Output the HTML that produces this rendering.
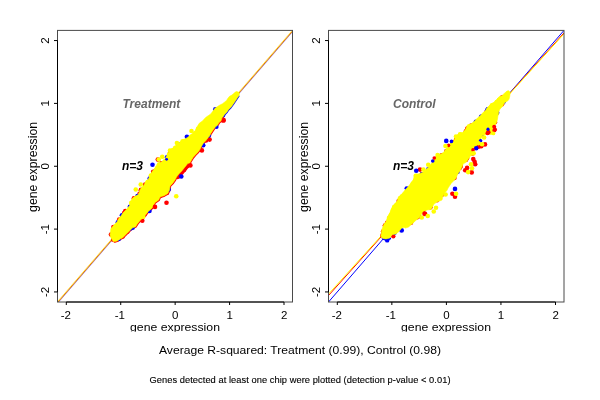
<!DOCTYPE html>
<html><head><meta charset="utf-8">
<style>
html,body{margin:0;padding:0;background:#fff;}
body{width:600px;height:400px;overflow:hidden;}
svg{display:block;font-family:"Liberation Sans",sans-serif;will-change:transform;}
</style></head>
<body>
<svg width="600" height="400" viewBox="0 0 600 400">
<defs><clipPath id="cx"><rect x="0" y="0" width="600" height="331.8"/></clipPath><clipPath id="c1"><rect x="57.5" y="30.4" width="235" height="271.6"/></clipPath><clipPath id="c2"><rect x="328.5" y="30.4" width="235.5" height="271.6"/></clipPath></defs>
<rect width="600" height="400" fill="#fff"/>
<!-- PLOT1 -->
<g id="p1">
<g clip-path="url(#c1)" fill="none" stroke-width="1">
<line x1="57.5" y1="302" x2="292.5" y2="30.5" stroke="#6040e0" stroke-opacity="0.55" transform="translate(0.65,0.65)"/>
<line x1="57.5" y1="302" x2="292.5" y2="30.5" stroke="#e07000" stroke-width="1" transform="translate(0.3,0.3)"/>
<line x1="57.5" y1="302" x2="292.5" y2="30.5" stroke="#ffd000" stroke-width="0.8" stroke-opacity="0.85" transform="translate(-0.15,-0.15)"/>
</g>
<g clip-path="url(#c1)">
<polyline points="114.75,241.60 117.25,240.93 120.29,239.01 122.93,237.48 126.71,233.71 129.71,230.71 132.56,227.83 135.61,226.69 137.07,224.32 139.53,221.13 141.15,219.26 143.21,217.96 145.50,214.91 148.84,210.87 149.73,210.37 152.30,207.80 155.00,202.50 158.75,200.00 159.50,198.00 161.00,196.50 164.00,195.75 167.75,193.50 169.60,189.75 170.00,186.00 172.50,183.50 175.00,180.00 176.50,177.00 178.75,174.00 181.75,171.00 184.75,167.25 187.75,163.50 190.00,162.75 191.50,160.00 193.00,157.60 195.25,155.00 197.50,152.75 199.75,149.75 201.25,146.75 203.50,143.00 205.75,140.75 208.00,137.75 209.60,136.10 210.75,133.50 212.25,131.25 213.75,129.00 215.60,126.75 217.50,125.25 219.00,122.60 220.90,121.10 222.00,117.75 223.25,116.50" fill="none" stroke="#ff0000" stroke-width="2.4" stroke-linejoin="round" stroke-linecap="round"/>
<polyline points="223.25,116.50 224.75,114.25 227.00,112.00 228.50,109.75 230.75,107.50 233.00,104.50 234.50,102.25 236.00,100.00 237.50,97.75 238.60,96.25" fill="none" stroke="#0000ff" stroke-width="1.9" stroke-linejoin="round" stroke-linecap="round"/>
<polyline points="177.50,176.50 179.50,174.00 182.50,171.00 185.50,167.50 188.50,164.50" fill="none" stroke="#ff0000" stroke-width="5.0" stroke-linejoin="round" stroke-linecap="round"/>
<circle cx="170.21" cy="152.16" r="2.3" fill="#ff0000"/>
<circle cx="161.26" cy="163.22" r="2.3" fill="#ff0000"/>
<circle cx="153.15" cy="171.83" r="2.3" fill="#ff0000"/>
<circle cx="145.18" cy="184.65" r="2.3" fill="#ff0000"/>
<circle cx="141.13" cy="189.83" r="2.3" fill="#ff0000"/>
<circle cx="140.86" cy="190.30" r="2.3" fill="#ff0000"/>
<circle cx="139.58" cy="193.81" r="2.3" fill="#ff0000"/>
<circle cx="133.92" cy="198.25" r="2.3" fill="#ff0000"/>
<circle cx="125.79" cy="211.39" r="2.3" fill="#ff0000"/>
<circle cx="124.09" cy="213.09" r="2.3" fill="#ff0000"/>
<circle cx="119.21" cy="219.48" r="2.3" fill="#ff0000"/>
<circle cx="113.40" cy="227.12" r="2.3" fill="#ff0000"/>
<circle cx="110.97" cy="234.50" r="2.3" fill="#ff0000"/>
<circle cx="113.22" cy="239.65" r="2.3" fill="#ff0000"/>
<circle cx="148.20" cy="210.17" r="2.3" fill="#ff0000"/>
<circle cx="144.61" cy="214.51" r="2.3" fill="#ff0000"/>
<circle cx="140.91" cy="218.29" r="2.3" fill="#ff0000"/>
<circle cx="131.85" cy="227.20" r="2.3" fill="#ff0000"/>
<circle cx="127.34" cy="231.74" r="2.3" fill="#ff0000"/>
<circle cx="122.66" cy="236.41" r="2.3" fill="#ff0000"/>
<circle cx="167.02" cy="192.83" r="2.3" fill="#ff0000"/>
<circle cx="160.50" cy="195.70" r="2.3" fill="#ff0000"/>
<circle cx="223.30" cy="120.20" r="2.6" fill="#ff0000"/>
<circle cx="209.60" cy="139.60" r="2.3" fill="#ff0000"/>
<circle cx="201.90" cy="150.40" r="2.3" fill="#ff0000"/>
<circle cx="190.40" cy="165.40" r="2.3" fill="#ff0000"/>
<circle cx="187.50" cy="165.60" r="2.3" fill="#ff0000"/>
<circle cx="142.30" cy="220.80" r="2.3" fill="#ff0000"/>
<circle cx="206.00" cy="140.50" r="2.3" fill="#ff0000"/>
<circle cx="125.30" cy="211.00" r="2.3" fill="#ff0000"/>
<circle cx="135.00" cy="198.50" r="2.3" fill="#ff0000"/>
<circle cx="181.50" cy="172.50" r="2.3" fill="#ff0000"/>
<circle cx="184.00" cy="170.00" r="2.3" fill="#ff0000"/>
<circle cx="178.50" cy="176.50" r="2.3" fill="#ff0000"/>
<circle cx="155.20" cy="170.50" r="2.0" fill="#ff0000"/>
<circle cx="215.36" cy="109.37" r="2.3" fill="#0000ff"/>
<circle cx="178.57" cy="144.58" r="2.3" fill="#0000ff"/>
<circle cx="167.06" cy="157.28" r="2.3" fill="#0000ff"/>
<circle cx="149.68" cy="178.47" r="2.3" fill="#0000ff"/>
<circle cx="137.52" cy="196.10" r="2.3" fill="#0000ff"/>
<circle cx="129.88" cy="206.71" r="2.3" fill="#0000ff"/>
<circle cx="122.32" cy="215.55" r="2.3" fill="#0000ff"/>
<circle cx="117.87" cy="222.18" r="2.3" fill="#0000ff"/>
<circle cx="215.72" cy="125.45" r="2.3" fill="#0000ff"/>
<circle cx="208.80" cy="135.56" r="2.3" fill="#0000ff"/>
<circle cx="168.67" cy="189.48" r="2.3" fill="#0000ff"/>
<circle cx="130.53" cy="228.53" r="2.3" fill="#0000ff"/>
<circle cx="118.70" cy="238.89" r="2.3" fill="#0000ff"/>
<circle cx="223.15" cy="114.93" r="2.3" fill="#0000ff"/>
<circle cx="186.90" cy="136.70" r="2.3" fill="#0000ff"/>
<circle cx="203.20" cy="145.30" r="2.3" fill="#0000ff"/>
<circle cx="181.30" cy="176.50" r="2.3" fill="#0000ff"/>
<circle cx="149.50" cy="211.00" r="2.3" fill="#0000ff"/>
<circle cx="132.60" cy="227.80" r="2.3" fill="#0000ff"/>
<circle cx="121.60" cy="215.20" r="2.0" fill="#0000ff"/>
<circle cx="216.60" cy="127.00" r="2.0" fill="#0000ff"/>
<polygon points="236.75,91.40 235.25,92.10 233.75,93.60 231.90,95.10 229.60,96.25 227.75,98.50 226.60,100.40 224.75,101.90 222.50,103.75 219.50,105.25 217.25,106.75 215.00,108.25 213.00,111.00 210.75,114.00 208.50,115.50 206.25,117.00 204.00,119.25 202.50,121.10 199.50,123.00 198.00,125.25 196.50,128.00 194.10,132.20 190.42,135.13 187.14,137.71 183.49,139.89 179.67,142.19 178.10,143.74 174.37,146.72 171.29,149.29 169.19,151.91 167.14,155.00 165.68,157.93 163.83,159.76 160.36,162.73 157.84,164.75 155.75,166.84 154.20,168.89 152.15,171.57 150.01,175.55 148.19,179.42 145.95,181.20 143.69,185.41 141.47,187.38 139.59,190.59 139.32,192.14 138.07,194.77 134.47,196.55 131.92,198.69 130.30,202.68 129.63,205.51 126.76,209.08 123.00,212.84 121.45,215.15 118.42,218.95 116.95,221.90 114.00,224.84 110.88,228.76 110.51,232.13 110.00,234.50 110.52,236.88 111.75,239.00 113.25,241.60 114.75,241.60 117.25,240.93 120.29,239.01 122.93,237.48 126.71,233.71 129.71,230.71 132.56,227.83 135.61,226.69 137.07,224.32 139.53,221.13 141.15,219.26 143.21,217.96 145.50,214.91 148.84,210.87 149.73,210.37 152.30,207.80 155.00,202.50 158.75,200.00 159.50,198.00 161.00,196.50 164.00,195.75 167.75,193.50 169.60,189.75 170.00,186.00 172.50,183.50 175.00,180.00 176.50,177.00 178.75,174.00 181.75,171.00 184.75,167.25 187.75,163.50 190.00,162.75 191.50,160.00 193.00,157.60 195.25,155.00 197.50,152.75 199.75,149.75 201.25,146.75 203.50,143.00 205.75,140.75 208.00,137.75 209.60,136.10 210.75,133.50 212.25,131.25 213.75,129.00 215.60,126.75 217.50,125.25 219.00,122.60 220.90,121.10 222.00,117.75 223.25,116.50 224.75,114.25 227.00,112.00 228.50,109.75 230.75,107.50 233.00,104.50 234.50,102.25 236.00,100.00 237.50,97.75 238.60,96.25 239.40,94.00 239.00,92.50" fill="#ffff00" stroke="#ffff00" stroke-width="0.6" stroke-linejoin="round"/>
<circle cx="198.1" cy="128.91" r="2.3" fill="#ffff00"/>
<circle cx="195.04" cy="133.37" r="2.3" fill="#ffff00"/>
<circle cx="191.47" cy="136.46" r="2.3" fill="#ffff00"/>
<circle cx="184.23" cy="141.12" r="2.3" fill="#ffff00"/>
<circle cx="175.27" cy="147.81" r="2.3" fill="#ffff00"/>
<circle cx="172.87" cy="150.56" r="2.3" fill="#ffff00"/>
<circle cx="165.18" cy="161.34" r="2.3" fill="#ffff00"/>
<circle cx="158.67" cy="165.59" r="2.3" fill="#ffff00"/>
<circle cx="157.2" cy="167.93" r="2.3" fill="#ffff00"/>
<circle cx="147.57" cy="182.07" r="2.3" fill="#ffff00"/>
<circle cx="131.28" cy="202.92" r="2.3" fill="#ffff00"/>
<circle cx="166.5" cy="202.75" r="2.3" fill="#ff0000"/>
<circle cx="155" cy="206.9" r="2.3" fill="#ff0000"/>
<circle cx="152.5" cy="164.75" r="2.3" fill="#0000ff"/>
<circle cx="157.9" cy="159.6" r="2.4" fill="#ff0000"/>
<circle cx="166.6" cy="159.3" r="1.4" fill="#0000ff"/>
<circle cx="158.7" cy="159.5" r="2.3" fill="#ffff00"/>
<circle cx="159.2" cy="164.2" r="2.3" fill="#ffff00"/>
<circle cx="170" cy="150.5" r="2.3" fill="#ffff00"/>
<circle cx="173" cy="150.2" r="2.3" fill="#ffff00"/>
<circle cx="176.25" cy="196.25" r="2.3" fill="#ffff00"/>
<circle cx="191.5" cy="131" r="2.3" fill="#ffff00"/>
<circle cx="162.25" cy="156.75" r="2.3" fill="#ffff00"/>
<circle cx="150.9" cy="175.5" r="2.3" fill="#ffff00"/>
<circle cx="140.75" cy="184.5" r="2.3" fill="#ffff00"/>
<circle cx="135.75" cy="189.5" r="2.3" fill="#ffff00"/>
<circle cx="169" cy="154.5" r="2.3" fill="#ffff00"/>
<circle cx="176.9" cy="143" r="2.3" fill="#ffff00"/>
<circle cx="182.5" cy="141.4" r="2.3" fill="#ffff00"/>
<circle cx="143.2" cy="216.8" r="2.3" fill="#ffff00"/>
</g>
<!-- box -->
<rect x="57.5" y="30.4" width="235" height="271.6" fill="none" stroke="#4a4a4a" stroke-width="1"/>
<!-- axes -->
<path d="M66.3 302V305M120.72 302V305M175.15 302V305M229.58 302V305M284 302V305M66.3 302H284" stroke="#000" stroke-width="1" fill="none"/>
<path d="M54 40.55H57.5M54 103.4H57.5M54 166.25H57.5M54 229.1H57.5M54 291.95H57.5M57.5 40.55V291.95" stroke="#000" stroke-width="1" fill="none"/>
<g font-size="11.5" text-anchor="middle" fill="#000">
<text x="65.9" y="319">-2</text><text x="119.8" y="319">-1</text><text x="175.2" y="319">0</text><text x="229.6" y="319">1</text><text x="284.2" y="319">2</text>
<text transform="translate(49,40.55) rotate(-90)">2</text>
<text transform="translate(49,103.4) rotate(-90)">1</text>
<text transform="translate(49,166.25) rotate(-90)">0</text>
<text transform="translate(49,229.1) rotate(-90)">-1</text>
<text transform="translate(49,291.95) rotate(-90)">-2</text>
</g>
<text clip-path="url(#cx)" x="175" y="330.5" font-size="11.6" text-anchor="middle" textLength="90" lengthAdjust="spacingAndGlyphs">gene expression</text>
<text transform="translate(37,166.9) rotate(-90)" font-size="12" text-anchor="middle" textLength="90" lengthAdjust="spacingAndGlyphs">gene expression</text>
<text x="122.5" y="107.7" font-size="12" font-weight="bold" font-style="italic" fill="#666">Treatment</text>
<text x="122" y="169.8" font-size="12" font-weight="bold" font-style="italic" fill="#000">n=3</text>
</g>
<!-- PLOT2 -->
<g id="p2">
<g clip-path="url(#c2)" fill="none" stroke-width="1">
<line x1="328.5" y1="302" x2="564" y2="30.4" stroke="#0000ff"/>
<line x1="328.5" y1="295.5" x2="564" y2="32.9" stroke="#ff0000"/>
<line x1="328.5" y1="294" x2="564" y2="33.9" stroke="#ffff00"/>
</g>
<g clip-path="url(#c2)">
<polyline points="383.00,238.60 386.00,239.40 389.75,238.60" fill="none" stroke="#0000ff" stroke-width="2.6" stroke-linejoin="round" stroke-linecap="round"/>
<circle cx="393.30" cy="236.20" r="2.2" fill="#ff0000"/>
<circle cx="467.59" cy="128.33" r="2.3" fill="#ff0000"/>
<circle cx="465.80" cy="131.40" r="2.3" fill="#ff0000"/>
<circle cx="455.97" cy="139.91" r="2.3" fill="#ff0000"/>
<circle cx="454.40" cy="142.16" r="2.3" fill="#ff0000"/>
<circle cx="449.75" cy="146.52" r="2.3" fill="#ff0000"/>
<circle cx="446.39" cy="150.97" r="2.3" fill="#ff0000"/>
<circle cx="441.66" cy="155.30" r="2.3" fill="#ff0000"/>
<circle cx="435.47" cy="159.03" r="2.3" fill="#ff0000"/>
<circle cx="435.47" cy="159.03" r="2.3" fill="#ff0000"/>
<circle cx="421.90" cy="174.36" r="2.3" fill="#ff0000"/>
<circle cx="398.67" cy="201.09" r="2.3" fill="#ff0000"/>
<circle cx="387.13" cy="222.69" r="2.3" fill="#ff0000"/>
<circle cx="384.96" cy="225.78" r="2.3" fill="#ff0000"/>
<circle cx="385.06" cy="225.52" r="2.3" fill="#ff0000"/>
<circle cx="383.05" cy="231.56" r="2.3" fill="#ff0000"/>
<circle cx="382.46" cy="235.39" r="2.3" fill="#ff0000"/>
<circle cx="392.53" cy="233.06" r="2.3" fill="#ff0000"/>
<circle cx="411.00" cy="222.78" r="2.3" fill="#ff0000"/>
<circle cx="417.29" cy="217.30" r="2.3" fill="#ff0000"/>
<circle cx="423.01" cy="210.26" r="2.3" fill="#ff0000"/>
<circle cx="418.79" cy="215.52" r="2.3" fill="#ff0000"/>
<circle cx="418.21" cy="216.39" r="2.3" fill="#ff0000"/>
<circle cx="430.40" cy="207.37" r="2.3" fill="#ff0000"/>
<circle cx="437.06" cy="200.31" r="2.3" fill="#ff0000"/>
<circle cx="441.82" cy="194.77" r="2.3" fill="#ff0000"/>
<circle cx="454.43" cy="177.88" r="2.3" fill="#ff0000"/>
<circle cx="472.57" cy="153.56" r="2.3" fill="#ff0000"/>
<circle cx="467.15" cy="158.10" r="2.3" fill="#ff0000"/>
<circle cx="466.11" cy="159.66" r="2.3" fill="#ff0000"/>
<circle cx="460.72" cy="165.90" r="2.3" fill="#ff0000"/>
<circle cx="459.92" cy="167.69" r="2.3" fill="#ff0000"/>
<circle cx="460.33" cy="166.86" r="2.3" fill="#ff0000"/>
<circle cx="475.23" cy="145.43" r="2.3" fill="#ff0000"/>
<circle cx="472.20" cy="149.75" r="2.3" fill="#ff0000"/>
<circle cx="476.82" cy="140.92" r="2.3" fill="#ff0000"/>
<circle cx="481.34" cy="134.48" r="2.3" fill="#ff0000"/>
<circle cx="491.60" cy="127.78" r="2.3" fill="#ff0000"/>
<circle cx="494.91" cy="122.21" r="2.3" fill="#ff0000"/>
<circle cx="502.02" cy="104.27" r="2.3" fill="#ff0000"/>
<circle cx="486.60" cy="111.76" r="2.3" fill="#ff0000"/>
<circle cx="471.28" cy="125.49" r="2.3" fill="#ff0000"/>
<circle cx="467.38" cy="128.87" r="2.3" fill="#ff0000"/>
<circle cx="502.29" cy="97.23" r="2.3" fill="#ff0000"/>
<circle cx="406.60" cy="188.30" r="2.1" fill="#0000ff"/>
<circle cx="401.60" cy="230.40" r="2.4" fill="#0000ff"/>
<circle cx="387.20" cy="240.40" r="2.2" fill="#0000ff"/>
<circle cx="487.55" cy="109.87" r="2.3" fill="#0000ff"/>
<circle cx="481.53" cy="116.56" r="2.3" fill="#0000ff"/>
<circle cx="475.85" cy="121.85" r="2.3" fill="#0000ff"/>
<circle cx="452.51" cy="143.21" r="2.3" fill="#0000ff"/>
<circle cx="434.14" cy="161.69" r="2.3" fill="#0000ff"/>
<circle cx="428.32" cy="169.39" r="2.3" fill="#0000ff"/>
<circle cx="421.94" cy="174.34" r="2.3" fill="#0000ff"/>
<circle cx="408.30" cy="188.86" r="2.3" fill="#0000ff"/>
<circle cx="399.30" cy="228.58" r="2.3" fill="#0000ff"/>
<circle cx="394.48" cy="232.67" r="2.3" fill="#0000ff"/>
<circle cx="386.89" cy="237.13" r="2.3" fill="#0000ff"/>
<circle cx="474.53" cy="146.19" r="2.3" fill="#0000ff"/>
<circle cx="478.51" cy="138.92" r="2.3" fill="#0000ff"/>
<circle cx="481.67" cy="134.19" r="2.3" fill="#0000ff"/>
<circle cx="497.14" cy="112.75" r="2.3" fill="#0000ff"/>
<circle cx="503.80" cy="101.58" r="2.3" fill="#0000ff"/>
<circle cx="486.93" cy="111.11" r="2.3" fill="#0000ff"/>
<circle cx="481.07" cy="116.97" r="2.3" fill="#0000ff"/>
<circle cx="487.79" cy="109.38" r="2.3" fill="#0000ff"/>
<circle cx="457.46" cy="171.89" r="2.3" fill="#0000ff"/>
<polygon points="508.25,90.60 506.00,91.75 503.75,94.00 501.50,95.90 499.25,96.50 497.75,98.50 495.50,100.75 493.25,103.00 491.00,104.10 488.75,106.00 486.50,108.50 485.25,111.00 483.00,112.50 480.40,115.50 477.75,117.75 474.75,120.75 473.25,122.25 470.60,124.10 468.00,124.60 467.00,125.50 465.90,128.40 464.75,130.25 462.50,132.50 458.75,133.25 456.00,136.60 453.75,140.75 451.50,142.00 448.50,145.60 447.75,146.75 445.10,150.10 444.00,152.00 441.00,153.90 437.60,155.00 435.75,156.90 434.25,158.00 432.75,161.00 432.00,162.50 429.75,165.90 427.00,168.50 423.00,172.25 419.25,173.75 415.50,174.50 414.25,175.50 413.50,179.50 411.50,182.50 409.00,185.50 407.00,188.00 405.00,190.00 402.75,193.00 400.50,195.25 398.25,197.50 397.10,200.90 395.00,203.75 392.75,206.00 390.90,209.75 390.30,212.00 389.00,214.25 387.60,217.25 386.40,220.25 385.90,221.75 384.00,224.00 383.00,226.50 381.90,229.50 381.50,231.40 381.50,233.25 380.80,235.50 381.50,237.00 382.60,238.50 386.00,238.90 389.75,238.10 392.00,234.75 395.75,234.00 398.75,231.75 401.75,228.00 404.00,227.25 405.50,228.10 408.50,227.00 411.50,224.40 414.50,221.75 416.50,219.75 419.00,218.00 423.00,212.00 427.00,210.00 431.00,209.50 434.00,204.00 437.00,202.00 442.00,200.00 442.60,197.50 443.75,193.75 446.75,190.75 448.25,187.75 449.75,185.50 451.25,183.25 453.50,181.00 455.75,178.75 457.25,175.00 458.75,172.75 460.25,170.50 461.75,167.50 463.25,163.75 466.25,162.25 469.25,157.75 470.75,155.50 474.50,154.75 473.75,152.00 473.75,149.00 476.50,146.50 478.25,141.50 481.00,138.50 482.50,135.50 486.00,134.50 490.00,134.50 493.00,134.25 494.00,132.00 492.50,130.00 493.50,127.00 495.25,125.00 496.75,122.00 497.50,119.00 497.90,116.00 498.50,114.25 498.90,111.25 500.00,109.00 501.50,107.50 503.00,106.00 503.75,104.10 505.25,102.25 507.50,101.10 509.00,99.25 509.75,96.25 510.10,93.25 509.75,91.75" fill="#ffff00" stroke="#ffff00" stroke-width="0.6" stroke-linejoin="round"/>
<circle cx="499.02" cy="99.77" r="2.3" fill="#ffff00"/>
<circle cx="496.71" cy="101.96" r="2.3" fill="#ffff00"/>
<circle cx="493.98" cy="104.49" r="2.3" fill="#ffff00"/>
<circle cx="492.0" cy="105.28" r="2.3" fill="#ffff00"/>
<circle cx="460.07" cy="134.33" r="2.3" fill="#ffff00"/>
<circle cx="438.72" cy="156.09" r="2.3" fill="#ffff00"/>
<circle cx="431.31" cy="167.55" r="2.3" fill="#ffff00"/>
<circle cx="416.7" cy="176.01" r="2.3" fill="#ffff00"/>
<circle cx="415.77" cy="175.78" r="2.3" fill="#ffff00"/>
<circle cx="414.98" cy="180.49" r="2.3" fill="#ffff00"/>
<circle cx="412.71" cy="183.51" r="2.3" fill="#ffff00"/>
<circle cx="404.31" cy="194.56" r="2.3" fill="#ffff00"/>
<circle cx="401.86" cy="196.61" r="2.3" fill="#ffff00"/>
<circle cx="400.24" cy="198.17" r="2.3" fill="#ffff00"/>
<circle cx="396.32" cy="205.07" r="2.3" fill="#ffff00"/>
<circle cx="394.4" cy="206.81" r="2.3" fill="#ffff00"/>
<circle cx="393.11" cy="210.34" r="2.3" fill="#ffff00"/>
<circle cx="392.14" cy="213.06" r="2.3" fill="#ffff00"/>
<circle cx="390.88" cy="215.13" r="2.3" fill="#ffff00"/>
<circle cx="389.05" cy="217.83" r="2.3" fill="#ffff00"/>
<circle cx="494.2" cy="126.8" r="2.0" fill="#ff0000"/>
<circle cx="495" cy="129.4" r="2.0" fill="#ff0000"/>
<circle cx="494.4" cy="130.6" r="2.0" fill="#ff0000"/>
<circle cx="488.3" cy="132.3" r="2.3" fill="#ff0000"/>
<circle cx="487.5" cy="133.3" r="2.0" fill="#ff0000"/>
<circle cx="488" cy="129.2" r="1.6" fill="#0000ff"/>
<circle cx="484.1" cy="137.5" r="2.3" fill="#ffff00"/>
<circle cx="493.4" cy="133.4" r="1.9" fill="#ffff00"/>
<circle cx="485" cy="144.4" r="2.3" fill="#ff0000"/>
<circle cx="481.25" cy="146.25" r="2.3" fill="#ff0000"/>
<circle cx="478.9" cy="146.6" r="2.3" fill="#ff0000"/>
<circle cx="476.2" cy="148.3" r="2.3" fill="#0000ff"/>
<circle cx="480.6" cy="140.7" r="1.8" fill="#0000ff"/>
<circle cx="473" cy="149.9" r="1.8" fill="#ff0000"/>
<circle cx="478.4" cy="143.3" r="2.3" fill="#ffff00"/>
<circle cx="482" cy="144.2" r="2.3" fill="#ffff00"/>
<circle cx="473.3" cy="159.1" r="2.3" fill="#ff0000"/>
<circle cx="474.6" cy="161.7" r="2.3" fill="#ff0000"/>
<circle cx="475.2" cy="164.3" r="2.3" fill="#ff0000"/>
<circle cx="467.1" cy="167.9" r="2.3" fill="#ff0000"/>
<circle cx="465.2" cy="170.2" r="2.3" fill="#ff0000"/>
<circle cx="471.7" cy="172.4" r="2.3" fill="#ff0000"/>
<circle cx="473.6" cy="153.25" r="2.3" fill="#ffff00"/>
<circle cx="471" cy="164.3" r="2.3" fill="#ffff00"/>
<circle cx="472" cy="168.2" r="2.3" fill="#ffff00"/>
<circle cx="468.1" cy="172.1" r="2.3" fill="#ffff00"/>
<circle cx="455" cy="188.9" r="2.3" fill="#0000ff"/>
<circle cx="452.4" cy="193.75" r="2.3" fill="#ff0000"/>
<circle cx="455" cy="196.75" r="2.3" fill="#ff0000"/>
<circle cx="456.1" cy="193.75" r="2.3" fill="#ffff00"/>
<circle cx="446.25" cy="140.9" r="2.3" fill="#0000ff"/>
<circle cx="451.5" cy="141.4" r="1.8" fill="#0000ff"/>
<circle cx="448.5" cy="145.4" r="1.8" fill="#ff0000"/>
<circle cx="445.5" cy="146" r="2.3" fill="#ffff00"/>
<circle cx="456" cy="136.6" r="2.3" fill="#ffff00"/>
<circle cx="420" cy="169.6" r="2.3" fill="#ff0000"/>
<circle cx="416.25" cy="170.75" r="2.3" fill="#0000ff"/>
<circle cx="423.4" cy="169.6" r="2.3" fill="#ffff00"/>
<circle cx="428.25" cy="164.75" r="2.3" fill="#ffff00"/>
<circle cx="432.75" cy="161" r="1.8" fill="#0000ff"/>
<circle cx="434.25" cy="158" r="1.8" fill="#ff0000"/>
<circle cx="437.6" cy="155" r="2.3" fill="#ffff00"/>
<circle cx="424.75" cy="213.75" r="2.5" fill="#ff0000"/>
<circle cx="427.75" cy="216" r="2.3" fill="#ffff00"/>
<circle cx="421.75" cy="217.5" r="2.3" fill="#ffff00"/>
<circle cx="433.75" cy="211.5" r="2.3" fill="#ffff00"/>
<circle cx="436" cy="207.75" r="2.3" fill="#ffff00"/>
<circle cx="445.6" cy="194.5" r="2.3" fill="#ffff00"/>
</g>
<rect x="328.5" y="30.4" width="235.5" height="271.6" fill="none" stroke="#4a4a4a" stroke-width="1"/>
<path d="M337.3 302V305M391.85 302V305M446.4 302V305M500.95 302V305M555.5 302V305M337.3 302H555.5" stroke="#000" stroke-width="1" fill="none"/>
<path d="M325 40.55H328.5M325 103.4H328.5M325 166.25H328.5M325 229.1H328.5M325 291.95H328.5M328.5 40.55V291.95" stroke="#000" stroke-width="1" fill="none"/>
<g font-size="11.5" text-anchor="middle" fill="#000">
<text x="336.9" y="319">-2</text><text x="390.9" y="319">-1</text><text x="446.4" y="319">0</text><text x="501" y="319">1</text><text x="555.6" y="319">2</text>
<text transform="translate(320,40.55) rotate(-90)">2</text>
<text transform="translate(320,103.4) rotate(-90)">1</text>
<text transform="translate(320,166.25) rotate(-90)">0</text>
<text transform="translate(320,229.1) rotate(-90)">-1</text>
<text transform="translate(320,291.95) rotate(-90)">-2</text>
</g>
<text clip-path="url(#cx)" x="446" y="330.5" font-size="11.6" text-anchor="middle" textLength="90" lengthAdjust="spacingAndGlyphs">gene expression</text>
<text transform="translate(308,166.9) rotate(-90)" font-size="12" text-anchor="middle" textLength="90" lengthAdjust="spacingAndGlyphs">gene expression</text>
<text x="393" y="107.7" font-size="12" font-weight="bold" font-style="italic" fill="#666">Control</text>
<text x="393" y="169.8" font-size="12" font-weight="bold" font-style="italic" fill="#000">n=3</text>
</g>
<!-- titles -->
<text x="300" y="353.8" font-size="11.8" text-anchor="middle" textLength="282" lengthAdjust="spacingAndGlyphs">Average R-squared: Treatment (0.99), Control (0.98)</text>
<text x="300" y="383" font-size="9.3" text-anchor="middle" textLength="301" lengthAdjust="spacing" stroke="#000" stroke-width="0.12">Genes detected at least one chip were plotted (detection p-value &lt; 0.01)</text>
</svg>
</body></html>
